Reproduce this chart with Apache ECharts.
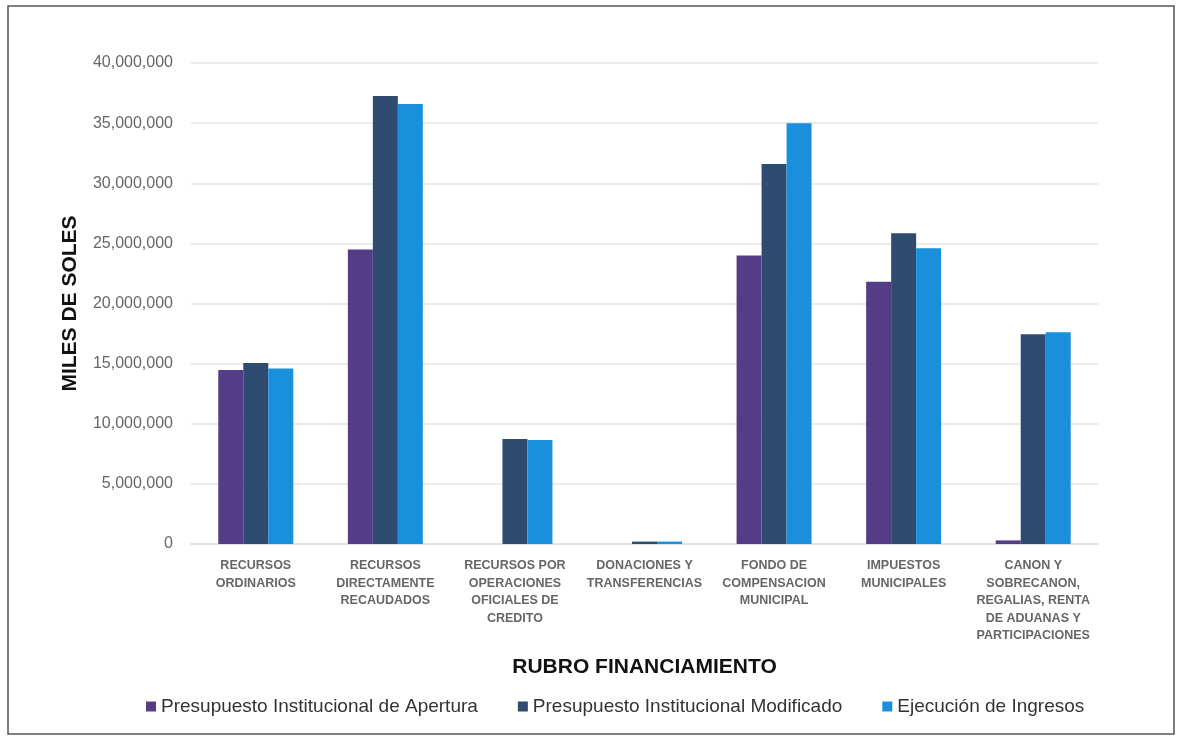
<!DOCTYPE html>
<html>
<head>
<meta charset="utf-8">
<script src="https://cdn.jsdelivr.net/npm/echarts@6/dist/echarts.min.js"></script>
<style>
  html, body { margin: 0; padding: 0; background: #fff; }
  #chart { width: 1183px; height: 739px; }
</style>
</head>
<body>
<div id="chart"></div>
<script>
const categories = [
  'RECURSOS\nORDINARIOS',
  'RECURSOS\nDIRECTAMENTE\nRECAUDADOS',
  'RECURSOS POR\nOPERACIONES\nOFICIALES DE\nCREDITO',
  'DONACIONES Y\nTRANSFERENCIAS',
  'FONDO DE\nCOMPENSACION\nMUNICIPAL',
  'IMPUESTOS\nMUNICIPALES',
  'CANON Y\nSOBRECANON,\nREGALIAS, RENTA\nDE ADUANAS Y\nPARTICIPACIONES'
]
const seriesNames = [
  'Presupuesto Institucional de Apertura',
  'Presupuesto Institucional Modificado',
  'Ejecución de Ingresos'
]
const apertura = [14470000, 24500000, 0, 0, 24000000, 21800000, 300000]
const modificado = [15050000, 37250000, 8730000, 200000, 31600000, 25850000, 17450000]
const ejecucion = [14600000, 36600000, 8650000, 200000, 35000000, 24600000, 17600000]
const yTicks = { min: 0, max: 40000000, interval: 5000000 }

const font = "'Liberation Sans', Arial, sans-serif"
const colors = ['#553c86', '#2f4b70', '#1a8fdc']

const chart = echarts.init(document.getElementById('chart'))

const makeSeries = (name, data, i) => ({
  name,
  type: 'bar',
  data,
  barWidth: 25,
  barGap: '0%',
  itemStyle: { color: colors[i] }
})

chart.setOption({
  animation: false,
  textStyle: { fontFamily: font },
  graphic: [{
    type: 'rect',
    shape: { x: 8, y: 6, width: 1166, height: 728 },
    style: { fill: 'none', stroke: '#555', lineWidth: 1.5 },
    silent: true
  }],
  grid: { left: 191, right: 85, top: 63, bottom: 195 },
  legend: {
    bottom: 18,
    left: 141,
    itemWidth: 10,
    itemHeight: 10,
    itemGap: 40,
    icon: 'rect',
    textStyle: { fontSize: 19, color: '#333', fontFamily: font },
    data: seriesNames
  },
  xAxis: {
    type: 'category',
    data: categories,
    name: 'RUBRO FINANCIAMIENTO',
    nameLocation: 'middle',
    nameGap: 113,
    nameTextStyle: { fontSize: 21, fontWeight: 'bold', color: '#111', fontFamily: font },
    axisLine: { lineStyle: { color: '#e3e3e3', width: 2 } },
    axisTick: { show: false },
    axisLabel: {
      interval: 0,
      fontSize: 12.5,
      fontWeight: 'bold',
      color: '#666',
      lineHeight: 17.5,
      margin: 13,
      fontFamily: font
    }
  },
  yAxis: {
    type: 'value',
    min: yTicks.min,
    max: yTicks.max,
    interval: yTicks.interval,
    name: 'MILES DE SOLES',
    nameLocation: 'middle',
    nameGap: 110,
    nameTextStyle: { fontSize: 21, fontWeight: 'bold', color: '#111', fontFamily: font },
    axisLine: { show: false },
    axisTick: { show: false },
    axisLabel: {
      fontSize: 16,
      color: '#666',
      margin: 18,
      fontFamily: font,
      formatter: v => v.toLocaleString('en-US')
    },
    splitLine: { lineStyle: { color: '#ebebeb', width: 2 } }
  },
  series: [
    makeSeries(seriesNames[0], apertura, 0),
    makeSeries(seriesNames[1], modificado, 1),
    makeSeries(seriesNames[2], ejecucion, 2)
  ]
})
</script>
</body>
</html>
